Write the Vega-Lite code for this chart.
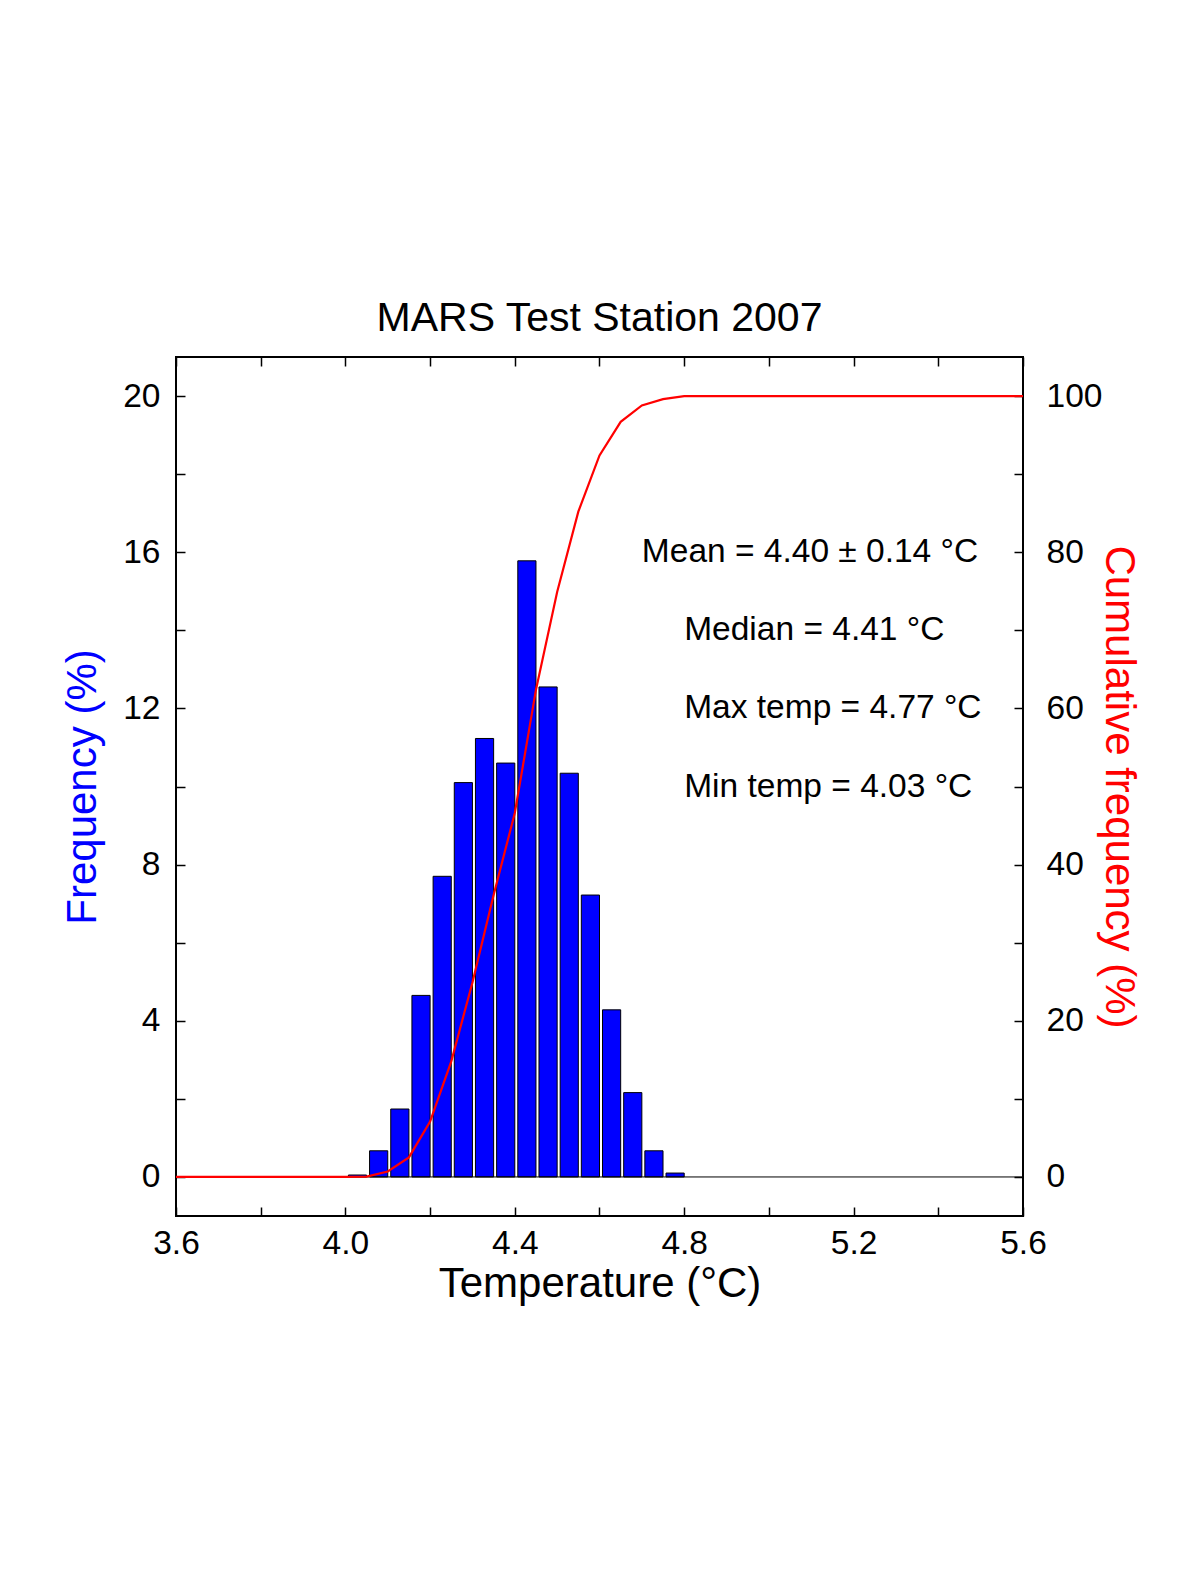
{
  "$schema": "https://vega.github.io/schema/vega-lite/v6.json",
  "width": 847,
  "height": 859,
  "autosize": {"type": "none"},
  "padding": {"left": 176, "top": 357, "right": 177, "bottom": 359},
  "background": "white",
  "title": {
    "text": "MARS Test Station 2007",
    "font": "Liberation Sans",
    "fontSize": 41,
    "fontWeight": "normal",
    "color": "black",
    "frame": "group",
    "anchor": "middle",
    "baseline": "alphabetic",
    "offset": -16
  },
  "config": {
    "font": "Liberation Sans",
    "view": {"stroke": "black", "strokeWidth": 2},
    "axis": {
      "domain": false,
      "grid": false,
      "tickColor": "black",
      "tickWidth": 1.5,
      "tickSize": -9,
      "labelFont": "Liberation Sans",
      "labelFontSize": 33.5,
      "labelColor": "black",
      "labelFlush": false,
      "labelOverlap": false,
      "titleFont": "Liberation Sans",
      "titleFontSize": 42,
      "titleFontWeight": "normal"
    }
  },
  "datasets": {
    "hist": [
      {"lo": 4.00, "hi": 4.05, "freq": 0.05},
      {"lo": 4.05, "hi": 4.10, "freq": 0.67},
      {"lo": 4.10, "hi": 4.15, "freq": 1.74},
      {"lo": 4.15, "hi": 4.20, "freq": 4.65},
      {"lo": 4.20, "hi": 4.25, "freq": 7.7},
      {"lo": 4.25, "hi": 4.30, "freq": 10.1},
      {"lo": 4.30, "hi": 4.35, "freq": 11.23},
      {"lo": 4.35, "hi": 4.40, "freq": 10.6},
      {"lo": 4.40, "hi": 4.45, "freq": 15.78},
      {"lo": 4.45, "hi": 4.50, "freq": 12.55},
      {"lo": 4.50, "hi": 4.55, "freq": 10.34},
      {"lo": 4.55, "hi": 4.60, "freq": 7.22},
      {"lo": 4.60, "hi": 4.65, "freq": 4.28},
      {"lo": 4.65, "hi": 4.70, "freq": 2.16},
      {"lo": 4.70, "hi": 4.75, "freq": 0.67},
      {"lo": 4.75, "hi": 4.80, "freq": 0.1}
    ],
    "cum": [
      {"lo": 3.6, "cum": 0},
      {"lo": 4.0, "cum": 0},
      {"lo": 4.05, "cum": 0.05},
      {"lo": 4.10, "cum": 0.7},
      {"lo": 4.15, "cum": 2.5},
      {"lo": 4.20, "cum": 7.1},
      {"lo": 4.25, "cum": 14.8},
      {"lo": 4.30, "cum": 24.9},
      {"lo": 4.35, "cum": 36.1},
      {"lo": 4.40, "cum": 46.6},
      {"lo": 4.45, "cum": 62.4},
      {"lo": 4.50, "cum": 74.9},
      {"lo": 4.55, "cum": 85.2},
      {"lo": 4.60, "cum": 92.4},
      {"lo": 4.65, "cum": 96.7},
      {"lo": 4.70, "cum": 98.8},
      {"lo": 4.75, "cum": 99.6},
      {"lo": 4.80, "cum": 100},
      {"lo": 5.6, "cum": 100}
    ],
    "notes": [
      {"lo": 4.70, "freq": 16, "label": "Mean = 4.40 ± 0.14 °C"},
      {"lo": 4.80, "freq": 14, "label": "Median = 4.41 °C"},
      {"lo": 4.80, "freq": 12, "label": "Max temp = 4.77 °C"},
      {"lo": 4.80, "freq": 10, "label": "Min temp = 4.03 °C"}
    ]
  },
  "layer": [
    {
      "data": {"name": "hist"},
      "mark": {"type": "bar", "color": "#0000FF", "stroke": "black", "strokeWidth": 1, "xOffset": 3},
      "encoding": {
        "x": {
          "field": "lo",
          "type": "quantitative",
          "scale": {"domain": [3.6, 5.6], "nice": false, "zero": false},
          "axis": {
            "orient": "bottom",
            "values": [3.6, 3.8, 4.0, 4.2, 4.4, 4.6, 4.8, 5.0, 5.2, 5.4, 5.6],
            "labelExpr": "round(datum.value * 10) % 4 == 0 ? format(datum.value, '.1f') : ''",
            "labelPadding": 20,
            "title": "Temperature (°C)",
            "titleColor": "black",
            "titleBaseline": "alphabetic",
            "titleY": 80
          }
        },
        "x2": {"field": "hi"},
        "y": {
          "field": "freq",
          "type": "quantitative",
          "scale": {"domain": [-1, 21], "nice": false, "zero": false},
          "axis": {
            "orient": "left",
            "values": [0, 2, 4, 6, 8, 10, 12, 14, 16, 18, 20],
            "labelExpr": "datum.value % 4 == 0 ? datum.value : ''",
            "labelPadding": 25,
            "title": "Frequency (%)",
            "titleColor": "#0000FF",
            "titleBaseline": "alphabetic",
            "titleX": -81
          }
        },
        "y2": {"datum": 0}
      }
    },
    {
      "data": {"values": [{}]},
      "mark": {"type": "rule", "color": "black", "strokeWidth": 1},
      "encoding": {
        "y": {"datum": 0, "type": "quantitative", "scale": {"domain": [-1, 21], "nice": false, "zero": false}, "axis": null}
      }
    },
    {
      "data": {"name": "notes"},
      "mark": {"type": "text", "align": "left", "baseline": "middle", "font": "Liberation Sans", "fontSize": 33.5, "color": "black"},
      "encoding": {
        "x": {"field": "lo", "type": "quantitative", "axis": null},
        "y": {"field": "freq", "type": "quantitative", "scale": {"domain": [-1, 21], "nice": false, "zero": false}, "axis": null},
        "text": {"field": "label"}
      }
    },
    {
      "data": {"name": "cum"},
      "mark": {"type": "line", "color": "#FF0000", "strokeWidth": 2.2},
      "encoding": {
        "x": {
          "field": "lo",
          "type": "quantitative",
          "axis": {
            "orient": "top",
            "values": [3.6, 3.8, 4.0, 4.2, 4.4, 4.6, 4.8, 5.0, 5.2, 5.4, 5.6],
            "labels": false,
            "title": null
          }
        },
        "y": {
          "field": "cum",
          "type": "quantitative",
          "scale": {"domain": [-5, 105], "nice": false, "zero": false},
          "axis": {
            "orient": "right",
            "values": [0, 10, 20, 30, 40, 50, 60, 70, 80, 90, 100],
            "labelExpr": "datum.value % 20 == 0 ? datum.value : ''",
            "labelAlign": "left",
            "labelPadding": 32,
            "title": "Cumulative frequency (%)",
            "titleColor": "#FF0000",
            "titleBaseline": "alphabetic",
            "titleX": 82
          }
        }
      }
    }
  ],
  "resolve": {
    "scale": {"y": "independent"},
    "axis": {"x": "independent", "y": "independent"}
  }
}
